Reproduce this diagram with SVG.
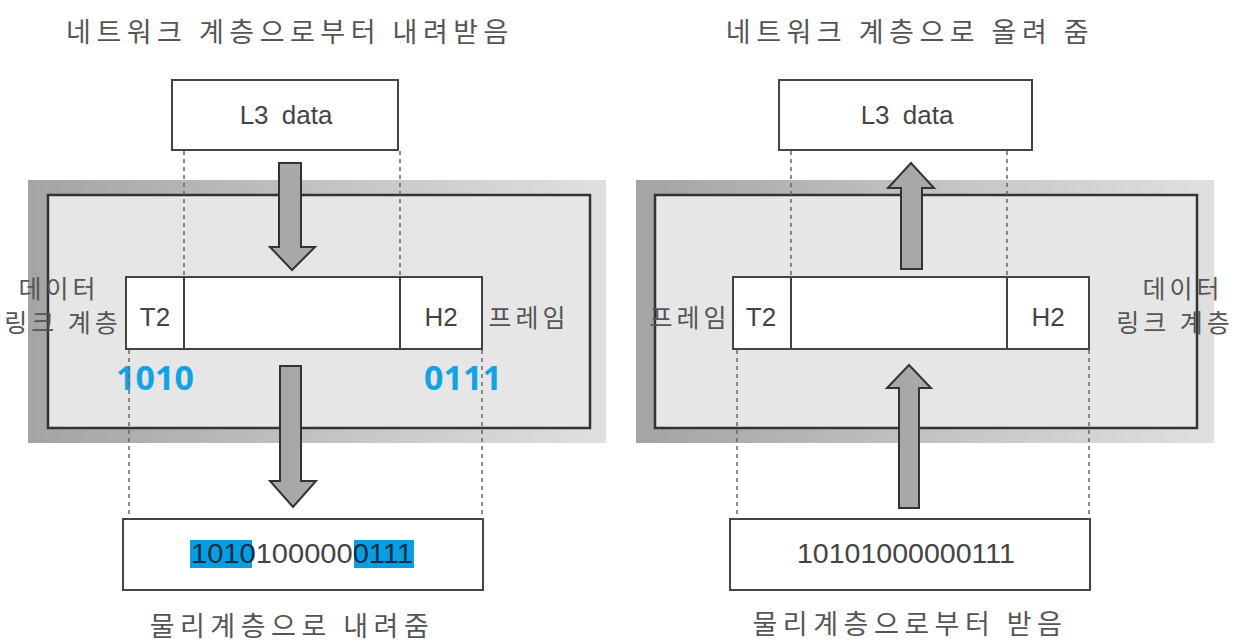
<svg xmlns="http://www.w3.org/2000/svg" width="1260" height="644" viewBox="0 0 1260 644">
<defs>
<linearGradient id="fr" x1="0" y1="0" x2="1" y2="0">
<stop offset="0" stop-color="#a4a4a4"/>
<stop offset="1" stop-color="#e0e0e0"/>
</linearGradient>
<style>
.ko{font-family:"Noto Sans CJK KR","Noto Sans",sans-serif;fill:#555;font-size:26px;letter-spacing:3px}
.tt{font-size:27px;letter-spacing:5.5px}
.lb{font-size:25px;letter-spacing:4px}
.lt{font-family:"Liberation Sans",Arial,sans-serif;fill:#444;font-size:26px;word-spacing:6px}
.box{fill:#fff;stroke:#444;stroke-width:2}
.inner{fill:#e6e6e6;stroke:#333;stroke-width:2.5}
.dash{stroke:#666;stroke-width:1.5;stroke-dasharray:4 4;fill:none}
.arr{fill:#a8a8a8;stroke:#333;stroke-width:2;stroke-linejoin:miter}
.blue{font-family:"Noto Sans","Open Sans",sans-serif;font-weight:bold;fill:#12a4e2;font-size:34px}
.bits{font-family:"Liberation Sans",Arial,sans-serif;fill:#444;font-size:27px}
.hl{fill:#0a9ddf}
</style>
</defs>

<!-- LEFT PANEL -->
<text class="ko tt" x="290" y="42" text-anchor="middle">네트워크 계층으로부터 내려받음</text>

<g id="left-l3">
<rect class="box" x="172" y="80" width="226" height="70"/>
<text class="lt" x="286" y="124" text-anchor="middle">L3 data</text>
</g>

<g id="left-layer">
<rect x="28" y="180" width="578" height="263" fill="url(#fr)"/>
<rect class="inner" x="48" y="195" width="542" height="233"/>
<text class="ko lb" x="59" y="298" text-anchor="middle">데이터</text>
<text class="ko lb" x="63" y="332" text-anchor="middle">링크 계층</text>
</g>

<g id="left-frame">
<rect class="box" x="126" y="277" width="356" height="72"/>
<line x1="184" y1="277" x2="184" y2="349" stroke="#444" stroke-width="2"/>
<line x1="400" y1="277" x2="400" y2="349" stroke="#444" stroke-width="2"/>
<text class="lt" x="155" y="326" text-anchor="middle">T2</text>
<text class="lt" x="441" y="326" text-anchor="middle">H2</text>
<text class="ko lb" x="529" y="327" text-anchor="middle">프레임</text>
<text class="blue" x="155" y="390" text-anchor="middle">1010</text>
<text class="blue" x="463" y="390" text-anchor="middle">0111</text>
</g>

<g id="left-bits">
<rect class="box" x="123" y="519" width="360" height="71"/>
<rect class="hl" x="190" y="540" width="62" height="28"/>
<rect class="hl" x="354" y="540" width="60" height="28"/>
<text class="bits" x="302" y="563" text-anchor="middle" textLength="222" lengthAdjust="spacingAndGlyphs"><tspan fill="#0b2f4a">1010</tspan>100000<tspan fill="#0b2f4a">0111</tspan></text>
</g>
<text class="ko tt" x="292" y="636" text-anchor="middle">물리계층으로 내려줌</text>

<!-- RIGHT PANEL -->
<text class="ko tt" x="910" y="42" text-anchor="middle">네트워크 계층으로 올려 줌</text>

<g id="right-l3">
<rect class="box" x="779" y="80" width="253" height="70"/>
<text class="lt" x="907" y="124" text-anchor="middle">L3 data</text>
</g>

<g id="right-layer">
<rect x="636" y="180" width="578" height="263" fill="url(#fr)"/>
<rect class="inner" x="655" y="195" width="542" height="233"/>
<text class="ko lb" x="1183" y="298" text-anchor="middle">데이터</text>
<text class="ko lb" x="1175" y="332" text-anchor="middle">링크 계층</text>
</g>

<g id="right-frame">
<rect class="box" x="733" y="277" width="356" height="72"/>
<line x1="791" y1="277" x2="791" y2="349" stroke="#444" stroke-width="2"/>
<line x1="1007" y1="277" x2="1007" y2="349" stroke="#444" stroke-width="2"/>
<text class="lt" x="761" y="326" text-anchor="middle">T2</text>
<text class="lt" x="1048" y="326" text-anchor="middle">H2</text>
<text class="ko lb" x="690" y="327" text-anchor="middle">프레임</text>
</g>

<g id="right-bits">
<rect class="box" x="730" y="519" width="360" height="71"/>
<text class="bits" x="906" y="563" text-anchor="middle" textLength="218" lengthAdjust="spacingAndGlyphs">10101000000111</text>
</g>
<text class="ko tt" x="910" y="634" text-anchor="middle">물리계층으로부터 받음</text>

<!-- CONNECTORS -->
<g id="connectors">
<line class="dash" x1="184" y1="151" x2="184" y2="277"/>
<line class="dash" x1="400" y1="151" x2="400" y2="277"/>
<line class="dash" x1="129" y1="350" x2="129" y2="519"/>
<line class="dash" x1="482" y1="350" x2="482" y2="519"/>
<polygon class="arr" points="279,163 301,163 301,247 315,247 292,270 270,247 279,247"/>
<polygon class="arr" points="280,366 301,366 301,481 316,481 293,507 270,481 280,481"/>

<line class="dash" x1="791" y1="151" x2="791" y2="277"/>
<line class="dash" x1="1007" y1="151" x2="1007" y2="277"/>
<line class="dash" x1="737" y1="350" x2="737" y2="519"/>
<line class="dash" x1="1089" y1="350" x2="1089" y2="519"/>
<polygon class="arr" points="901,269 922,269 922,188 934,188 911,163 888,188 901,188"/>
<polygon class="arr" points="899,508 919,508 919,388 931,388 909,365 887,388 899,388"/>
</g>
</svg>
